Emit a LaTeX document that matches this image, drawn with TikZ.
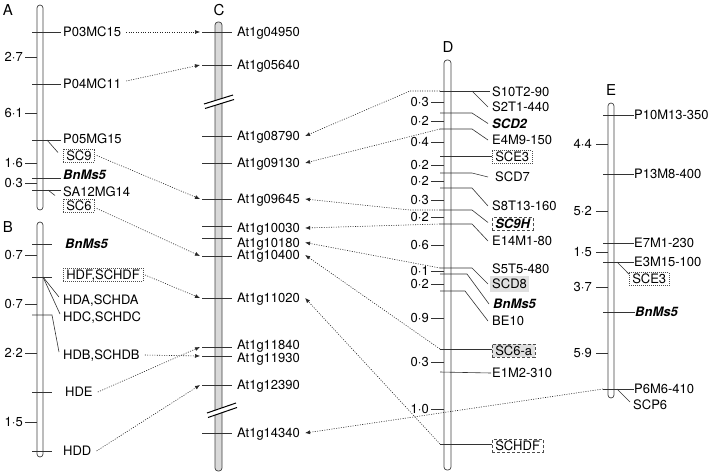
\documentclass[tikz,border=0pt]{standalone}
\usepackage{fontspec}
\setmainfont{TeX Gyre Heros}
\usetikzlibrary{arrows.meta}
\newcommand\mapfont{\fontsize{13}{15}\selectfont}

\begin{document}
\begin{tikzpicture}[x=1pt,y=-1pt,
    chrom/.style={draw=black!75,line width=0.7pt,rounded corners=3pt},
    mk/.style={draw=black!80,line width=0.6pt},
    brk/.style={draw=black,line width=1pt},
    lbl/.style={anchor=west,inner sep=0pt,text height=9.3pt,text depth=0pt,font=\mapfont},
    gene/.style={lbl,font=\mapfont\bfseries\itshape},
    dist/.style={anchor=east,inner sep=0pt,text height=9.3pt,text depth=0pt,font=\mapfont},
    title/.style={inner sep=0pt,font=\fontsize{15}{17}\selectfont},
    dotbox/.style={lbl,draw=black!70,line width=0.5pt,dash pattern=on 1pt off 1pt,inner xsep=3pt,inner ysep=2pt},
    dashbox/.style={lbl,draw=black!70,line width=0.6pt,dash pattern=on 3pt off 2pt,inner xsep=3pt,inner ysep=2pt},
    arr/.style={draw=black!85,line width=0.6pt,dash pattern=on 1pt off 1.4pt,-{Latex[length=5pt,width=4pt]}}]

    \useasboundingbox (0,0) rectangle (709,474);

    % Chromosomes
    \draw[chrom] (37,5) rectangle (43,210);
    \draw[chrom] (37,222) rectangle (43,457);
    \draw[chrom,fill=black!15] (215,22) rectangle (222,471);
    \draw[chrom] (444,60) rectangle (451,470);
    \draw[chrom] (608,103) rectangle (614,398);

    % Titles
    \node[title] (tA) at (8,10) {A};
    \node[title] (tB) at (8,227) {B};
    \node[title] (tC) at (219,10) {C};
    \node[title] (tD) at (448,47) {D};
    \node[title] (tE) at (611,90) {E};

    % Map A
    \draw[mk] (32,32) -- (61,32);
    \node[lbl] (p03mc15) at (63,32) {P03MC15};
    \draw[mk] (32,84) -- (61,84);
    \node[lbl] (p04mc11) at (63,84) {P04MC11};
    \draw[mk] (32,140) -- (61,140);
    \node[lbl] (p05mg15) at (63,139) {P05MG15};
    \node[dotbox] (sc9) at (63,155.5) {SC9};
    \draw[mk] (47,140) -- ([xshift=-5pt,yshift=3pt]sc9.west);
    \draw[mk] (32,178) -- (61,178);
    \node[gene] (bnmsA) at (63,174.5) {BnMs5};
    \draw[mk] (32,190) -- (61,190);
    \node[lbl] (sa12mg14) at (63,192) {SA12MG14};
    \node[dotbox] (sc6) at (63,205.5) {SC6};
    \draw[mk] (48,190) -- ([xshift=-8pt,yshift=10pt]sc6.west);

    % Distances A
    \draw[mk] (25,57) -- (37,57);   \node[dist] (dA1) at (23,57) {2·7};
    \draw[mk] (25,113) -- (37,113); \node[dist] (dA2) at (23,113) {6·1};
    \draw[mk] (25,163) -- (37,163); \node[dist] (dA3) at (23,163) {1·6};
    \draw[mk] (25,183) -- (37,183); \node[dist] (dA4) at (23,183) {0·3};

    % Map B
    \draw[mk] (32,244) -- (52,244);
    \node[gene] (bnmsB) at (65,244) {BnMs5};
    \draw[mk] (32,277) -- (52,277);
    \node[dotbox] (hdf) at (63,275) {HDF,SCHDF};
    \node[lbl] (hda) at (63,300) {HDA,SCHDA};
    \node[lbl] (hdc) at (63,317) {HDC,SCHDC};
    \draw[mk] (43,277) -- ([xshift=-4pt,yshift=3pt]hda.west);
    \draw[mk] (43,277) -- ([xshift=-3pt,yshift=3pt]hdc.west);
    \node[lbl] (hdb) at (63,355) {HDB,SCHDB};
    \draw[mk] (32,315) -- (52,315) -- ([xshift=-4pt,yshift=3pt]hdb.west);
    \draw[mk] (32,392) -- (52,392);
    \node[lbl] (hde) at (65,392) {HDE};
    \draw[mk] (32,451) -- (52,451);
    \node[lbl] (hdd) at (63,451) {HDD};

    % Distances B
    \draw[mk] (25,255) -- (37,255); \node[dist] (dB1) at (23,255) {0·7};
    \draw[mk] (25,304) -- (37,304); \node[dist] (dB2) at (23,304) {0·7};
    \draw[mk] (25,353) -- (37,353); \node[dist] (dB3) at (23,353) {2·2};
    \draw[mk] (25,422) -- (37,422); \node[dist] (dB4) at (23,422) {1·5};

    % Map C
    \draw[mk] (202,32) -- (232,32);   \node[lbl] (c04950) at (237,32) {At1g04950};
    \draw[mk] (202,65) -- (232,65);   \node[lbl] (c05640) at (237,65) {At1g05640};
    \draw[mk] (202,136) -- (232,136); \node[lbl] (c08790) at (237,136) {At1g08790};
    \draw[mk] (202,163) -- (232,163); \node[lbl] (c09130) at (237,163) {At1g09130};
    \draw[mk] (202,199) -- (232,199); \node[lbl] (c09645) at (237,199) {At1g09645};
    \draw[mk] (202,226) -- (232,226); \node[lbl] (c10030) at (237,228) {At1g10030};
    \draw[mk] (202,238) -- (232,238); \node[lbl] (c10180) at (237,242.5) {At1g10180};
    \draw[mk] (202,256) -- (232,256); \node[lbl] (c10400) at (237,255) {At1g10400};
    \draw[mk] (202,298) -- (232,298); \node[lbl] (c11020) at (237,298) {At1g11020};
    \draw[mk] (202,347) -- (232,347); \node[lbl] (c11840) at (237,344.5) {At1g11840};
    \draw[mk] (202,356) -- (232,356); \node[lbl] (c11930) at (237,358) {At1g11930};
    \draw[mk] (202,385) -- (232,385); \node[lbl] (c12390) at (237,385) {At1g12390};
    \draw[mk] (202,433) -- (232,433); \node[lbl] (c14340) at (237,433) {At1g14340};

    % Breaks in C
    \fill[white] (204,104) -- (233,95) -- (234,99.5) -- (205,108.5) -- cycle;
    \draw[brk] (204,104) -- (233,95);
    \draw[brk] (205,108.5) -- (234,99.5);
    \fill[white] (207,413) -- (236,403) -- (237,407.5) -- (208,417.5) -- cycle;
    \draw[brk] (207,413) -- (236,403);
    \draw[brk] (208,417.5) -- (237,407.5);

    % Arrow ends on C
    \coordinate (t04950) at (200,32);
    \coordinate (t05640) at (200,65);
    \coordinate (t09645) at (200,199);
    \coordinate (t10400) at (200,256);
    \coordinate (t11020) at (200,298);
    \coordinate (t11840) at (200,347);
    \coordinate (t11930) at (200,356);
    \coordinate (t12390) at (200,385);

    % Map D
    \coordinate (d1) at (440,91);   \coordinate (b1) at (472,91);
    \coordinate (d2) at (440,113);  \coordinate (b2) at (472,113);
    \coordinate (d3) at (440,129);  \coordinate (b3) at (472,129);
    \coordinate (d4) at (440,156);
    \coordinate (d5) at (440,173);  \coordinate (b5) at (472,173);
    \coordinate (d6) at (440,188);  \coordinate (b6) at (472,188);
    \coordinate (d7) at (440,210);  \coordinate (b7) at (472,210);
    \coordinate (d8) at (440,224);  \coordinate (b8) at (472,224);
    \coordinate (d9) at (440,268);  \coordinate (b9) at (472,268);
    \coordinate (d10) at (440,274); \coordinate (b10) at (467,274);
    \coordinate (d11) at (440,291); \coordinate (b11) at (465,291);
    \coordinate (d12) at (440,349);
    \coordinate (d13) at (440,372);
    \coordinate (d14) at (440,444);

    \node[lbl] (s10t2) at (492,92) {S10T2-90};
    \draw[mk] (d1) -- (490,91);
    \node[lbl] (s2t1) at (492,107) {S2T1-440};
    \draw[mk] (b1) -- ([xshift=-4pt]s2t1.west);
    \node[gene] (scd2) at (492,123.5) {SCD2};
    \draw[mk] (d2) -- (b2) -- ([xshift=-4pt]scd2.west);
    \node[lbl] (e4m9) at (492,140) {E4M9-150};
    \draw[mk] (d3) -- (b3) -- ([xshift=-4pt]e4m9.west);
    \node[dotbox] (sceD) at (492,157) {SCE3};
    \draw[mk] (d4) -- (d4 -| sceD.west);
    \node[lbl] (scd7) at (495,177) {SCD7};
    \draw[mk] (d5) -- (b5) -- ([xshift=-7pt]scd7.west);
    \node[lbl] (s8t13) at (492,206) {S8T13-160};
    \draw[mk] (d6) -- (b6) -- ([xshift=-4pt]s8t13.west);
    \node[dashbox,font=\mapfont\bfseries\itshape] (sc9h) at (492,224) {SC9H};
    \draw[mk] (d7) -- (b7) -- ([xshift=-4pt,yshift=1.5pt]sc9h.west);
    \node[lbl] (e14m1) at (492,241) {E14M1-80};
    \draw[mk] (d8) -- (b8) -- ([xshift=-4pt]e14m1.west);
    \node[lbl] (s5t5) at (492,269) {S5T5-480};
    \node[lbl,fill=black!12,inner xsep=2pt,inner ysep=3pt] (scd8) at (490,284) {SCD8};
    \draw[mk] (d9) -- (b9) -- ([xshift=-2pt]scd8.west);
    \node[gene] (bnmsD) at (493,304) {BnMs5};
    \draw[mk] (d10) -- (b10) -- ([xshift=-4pt]bnmsD.west);
    \node[lbl] (be10) at (492,321) {BE10};
    \draw[mk] (d11) -- (b11) -- ([xshift=-4pt]be10.west);
    \node[dashbox,fill=black!12] (sc6a) at (492,350.5) {SC6-a};
    \draw[mk] (d12) -- (d12 -| sc6a.west);
    \node[lbl] (e1m2) at (492,373) {E1M2-310};
    \draw[mk] (d13) -- ([xshift=-1pt]e1m2.west);
    \node[dashbox] (schdf) at (492,446) {SCHDF};
    \draw[mk] (d14) -- (d14 -| schdf.west);

    % Distances D
    \draw[mk] (431,102) -- (444,102); \node[dist] (dD1) at (429,102) {0·3};
    \draw[mk] (431,121) -- (444,121); \node[dist] (dD2) at (429,121) {0·2};
    \draw[mk] (431,142) -- (444,142); \node[dist] (dD3) at (429,142) {0·4};
    \draw[mk] (431,165) -- (444,165); \node[dist] (dD4) at (429,165) {0·2};
    \draw[mk] (431,181) -- (444,181); \node[dist] (dD5) at (429,181) {0·2};
    \draw[mk] (431,200) -- (444,200); \node[dist] (dD6) at (429,200) {0·3};
    \draw[mk] (431,217) -- (444,217); \node[dist] (dD7) at (429,217) {0·2};
    \draw[mk] (431,245) -- (444,245); \node[dist] (dD8) at (429,245) {0·6};
    \draw[mk] (431,271) -- (444,271); \node[dist] (dD9) at (429,271) {0·1};
    \draw[mk] (431,284) -- (444,284); \node[dist] (dD10) at (429,284) {0·2};
    \draw[mk] (431,318) -- (444,318); \node[dist] (dD11) at (429,318) {0·9};
    \draw[mk] (431,362) -- (444,362); \node[dist] (dD12) at (429,362) {0·3};
    \draw[mk] (431,409) -- (444,409); \node[dist] (dD13) at (429,409) {1·0};

    % Map E
    \node[lbl] (p10m13) at (634,115) {P10M13-350};
    \draw[mk] (603,115) -- (p10m13.west);
    \node[lbl] (p13m8) at (634,174) {P13M8-400};
    \draw[mk] (603,174) -- (p13m8.west);
    \node[lbl] (e7m1) at (634,243) {E7M1-230};
    \draw[mk] (603,243) -- (e7m1.west);
    \node[lbl] (e3m15) at (634,262) {E3M15-100};
    \draw[mk] (603,262) -- (e3m15.west);
    \node[dotbox] (sceE) at (629,279) {SCE3};
    \draw[mk] (617,262) -- ([yshift=-2pt]sceE.north west);
    \node[gene] (bnmsE) at (635,312) {BnMs5};
    \draw[mk] (603,312) -- (bnmsE.west);
    \coordinate (e6) at (603,389);
    \node[lbl] (p6m6) at (634,389) {P6M6-410};
    \draw[mk] (e6) -- (p6m6.west);
    \node[lbl] (scp6) at (633,405) {SCP6};
    \draw[mk] (617,389) -- ([xshift=-3pt,yshift=3pt]scp6.west);

    % Distances E
    \draw[mk] (596,144) -- (608,144); \node[dist] (dE1) at (592,144) {4·4};
    \draw[mk] (596,211) -- (608,211); \node[dist] (dE2) at (592,211) {5·2};
    \draw[mk] (596,252) -- (608,252); \node[dist] (dE3) at (592,252) {1·5};
    \draw[mk] (596,287) -- (608,287); \node[dist] (dE4) at (592,287) {3·7};
    \draw[mk] (596,353) -- (608,353); \node[dist] (dE5) at (592,353) {5·9};

    % Arrows A and B to C
    \draw[arr] ([xshift=5pt]p03mc15.east) -- (t04950);
    \draw[arr] ([xshift=5pt,yshift=3pt]p04mc11.east) -- (t05640);
    \draw[arr] ([xshift=2pt]sc9.east) -- (t09645);
    \draw[arr] ([xshift=2pt,yshift=-3pt]sc6.east) -- (t10400);
    \draw[arr] ([xshift=2pt]hdf.east) -- (t11020);
    \draw[arr] ([xshift=5pt]hdb.east) -- (t11930);
    \draw[arr] ([xshift=5pt]hde.east) -- (t11840);
    \draw[arr] ([xshift=5pt]hdd.east) -- (t12390);

    % Arrows D and E to C
    \draw[arr] (d1) -- (410,91) -- ([xshift=5pt]c08790.east);
    \draw[arr] (d3) -- ([xshift=5pt]c09130.east);
    \draw[arr] (d7) -- (410,210) -- ([xshift=5pt]c09645.east);
    \draw[arr] (d8) -- ([xshift=5pt]c10030.east);
    \draw[arr] (d9) -- ([xshift=5pt]c10180.east);
    \draw[arr] (d12) -- ([xshift=5pt]c10400.east);
    \draw[arr] (d14) -- ([xshift=5pt]c11020.east);
    \draw[arr] (e6) -- ([xshift=5pt]c14340.east);
\end{tikzpicture}
\end{document}
